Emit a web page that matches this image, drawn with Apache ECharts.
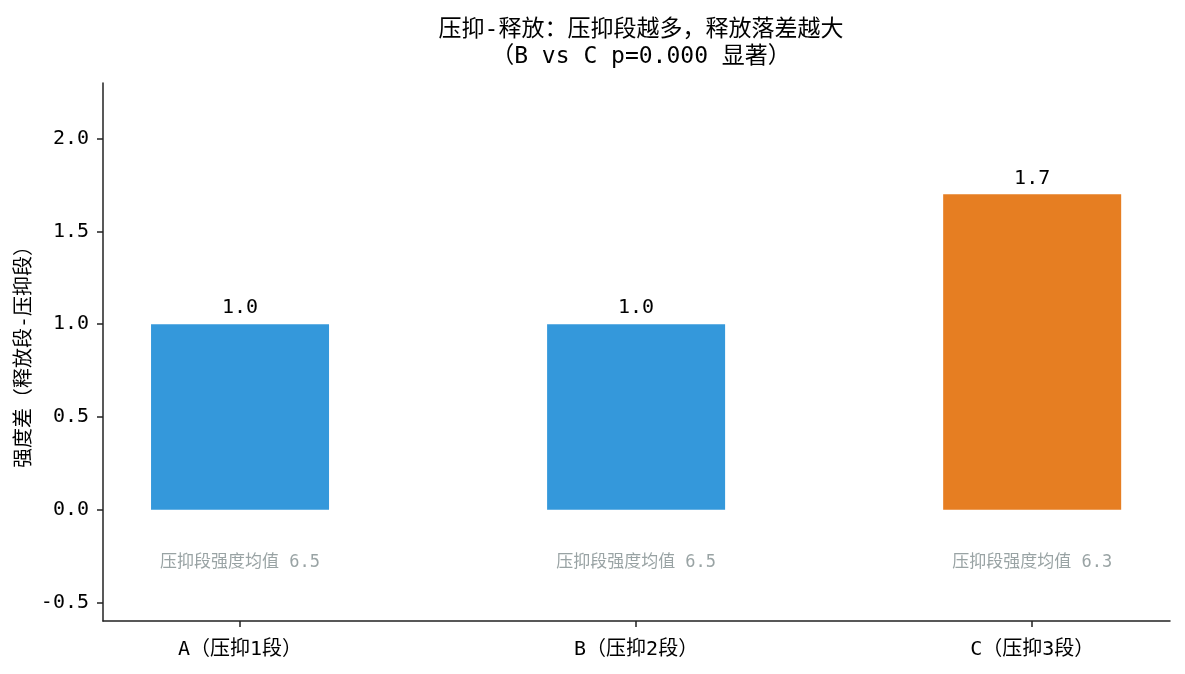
<!DOCTYPE html>
<html>
<head>
<meta charset="utf-8">
<script src="https://cdn.jsdelivr.net/npm/echarts@6/dist/echarts.min.js"></script>
<style>
  html, body { margin: 0; padding: 0; background: #fff; }
  #chart { width: 1185px; height: 674px; }
</style>
</head>
<body>
<div id="chart"></div>
<script>
// 数据
var categories = ['A（压抑1段）', 'B（压抑2段）', 'C（压抑3段）'];
var diffValues = [1.0, 1.0, 1.7];
var barColors = ['#3498db', '#3498db', '#e67e22'];
var suppressMeans = [6.5, 6.5, 6.3];
var noteY = -0.285;
var yTicks = [-0.5, 0.0, 0.5, 1.0, 1.5, 2.0];

var font = '"DejaVu Sans Mono", "Noto Sans CJK SC", monospace';

var chart = echarts.init(document.getElementById('chart'));

var option = {
  animation: false,
  title: {
    text: '压抑-释放：压抑段越多，释放落差越大\n（B vs C p=0.000 显著）',
    left: 636,
    textAlign: 'center',
    top: 12,
    textStyle: {
      fontFamily: font,
      fontSize: 23,
      fontWeight: 'normal',
      color: '#000',
      lineHeight: 27
    }
  },
  grid: {
    left: 103,
    right: 15,
    top: 83,
    bottom: 53,
    outerBoundsMode: 'none'
  },
  xAxis: {
    type: 'value',
    min: -0.346,
    max: 2.348,
    splitLine: { show: false },
    axisLine: { show: true, onZero: false, lineStyle: { color: '#222', width: 1.5 } },
    axisTick: { show: true, customValues: [0, 1, 2], length: 6, lineStyle: { color: '#222', width: 1.5 } },
    axisLabel: {
      customValues: [0, 1, 2],
      formatter: function (v) { return categories[Math.round(v)]; },
      fontFamily: font,
      fontSize: 20,
      color: '#000',
      margin: 19
    }
  },
  yAxis: {
    type: 'value',
    min: -0.6,
    max: 2.3,
    name: '强度差（释放段-压抑段）',
    nameLocation: 'middle',
    nameGap: 68,
    nameMoveOverlap: false,
    nameTextStyle: { fontFamily: font, fontSize: 20, color: '#000' },
    splitLine: { show: false },
    axisLine: { show: true, onZero: false, lineStyle: { color: '#222', width: 1.5 } },
    axisTick: { show: true, customValues: yTicks, length: 6, lineStyle: { color: '#222', width: 1.5 } },
    axisLabel: {
      customValues: yTicks,
      formatter: function (v) { return v.toFixed(1); },
      fontFamily: font,
      fontSize: 20,
      color: '#000',
      margin: 14
    }
  },
  series: [
    {
      type: 'bar',
      barWidth: 178,
      data: diffValues.map(function (v, i) {
        return { value: [i, v], itemStyle: { color: barColors[i] } };
      }),
      label: {
        show: true,
        position: 'top',
        distance: 6,
        formatter: function (p) { return p.value[1].toFixed(1); },
        fontFamily: font,
        fontSize: 20,
        color: '#000'
      }
    },
    {
      type: 'scatter',
      symbolSize: 0,
      data: suppressMeans.map(function (m, i) { return [i, noteY, m]; }),
      label: {
        show: true,
        position: 'inside',
        formatter: function (p) { return '压抑段强度均值 ' + p.value[2].toFixed(1); },
        fontFamily: font,
        fontSize: 17,
        color: '#7f8c8d'
      }
    }
  ]
};

chart.setOption(option);
</script>
</body>
</html>
